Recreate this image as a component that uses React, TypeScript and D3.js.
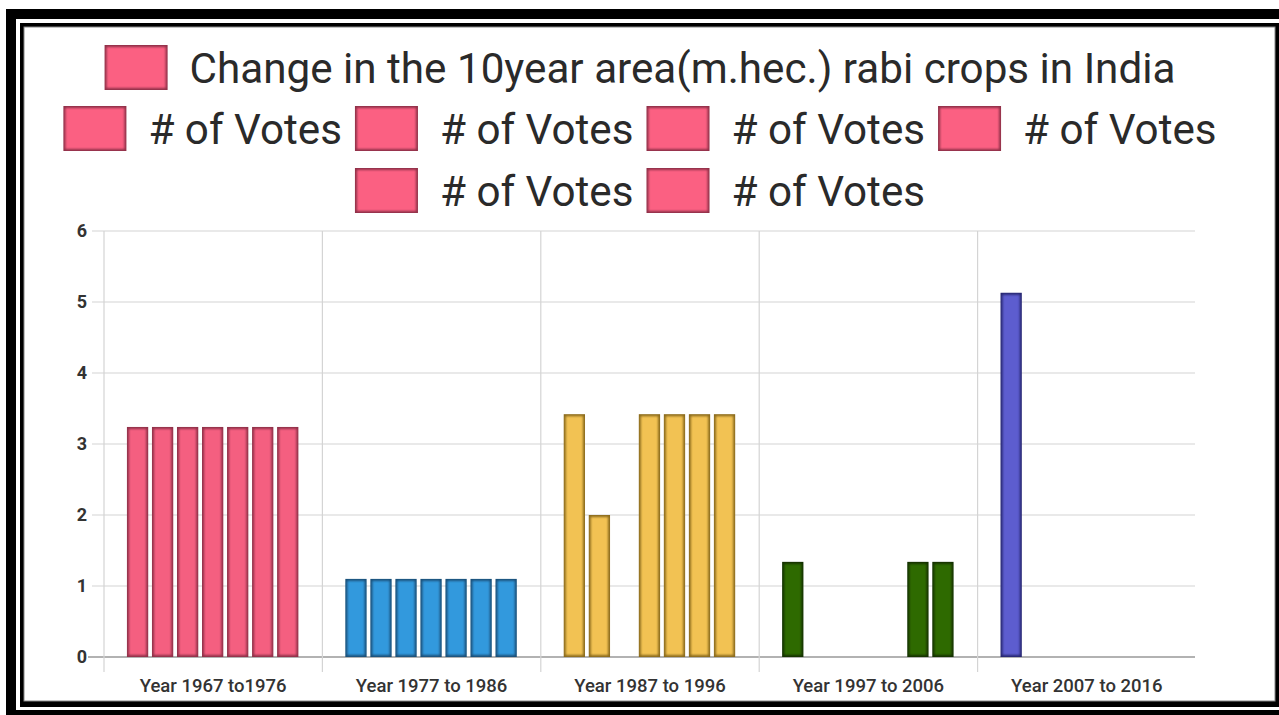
import React from "react";
import * as d3 from "d3";

const categories = [
  "Year 1967 to1976",
  "Year 1977 to 1986",
  "Year 1987 to 1996",
  "Year 1997 to 2006",
  "Year 2007 to 2016",
];
const seriesNames = [
  "Change in the 10year area(m.hec.) rabi crops in India",
  "# of Votes",
  "# of Votes",
  "# of Votes",
  "# of Votes",
  "# of Votes",
  "# of Votes",
];
const series1 = [3.24, 1.1, 3.42, 1.34, 5.13];
const series2 = [3.24, 1.1, 2.0, 0, 0];
const series3 = [3.24, 1.1, 0, 0, 0];
const series4 = [3.24, 1.1, 3.42, 0, 0];
const series5 = [3.24, 1.1, 3.42, 0, 0];
const series6 = [3.24, 1.1, 3.42, 1.34, 0];
const series7 = [3.24, 1.1, 3.42, 1.34, 0];
const allSeries = [series1, series2, series3, series4, series5, series6, series7];
const categoryColors = ["#f45e80", "#3399dd", "#f2c252", "#2f6b00", "#5d5dcf"];
const categoryEdges = ["#8f3048", "#1a4f78", "#8a6a1c", "#143000", "#262670"];
const legendColor = "#fb6182";
const legendEdge = "#8f3048";
const yTicks = [0, 1, 2, 3, 4, 5, 6];

const W = 1279;
const H = 715;
const FONT = "Roboto, 'Noto Sans', sans-serif";

function measure(text: string, size: number, weight = "400") {
  const c = document.createElement("canvas");
  const ctx = c.getContext("2d");
  if (!ctx) return text.length * size * 0.47;
  ctx.font = `${weight} ${size}px Roboto`;
  return ctx.measureText(text).width;
}

function BevelRect(props: { x: number; y: number; w: number; h: number; fill: string; edge: string }) {
  const { x, y, w, h, fill, edge } = props;
  const inset = 2;
  return (
    <g>
      <rect x={x} y={y} width={w} height={h} fill={edge} />
      <rect
        x={x + inset}
        y={y + inset}
        width={Math.max(0, w - inset * 2)}
        height={Math.max(0, h - inset * 2)}
        fill={fill}
        filter="url(#soft)"
      />
    </g>
  );
}

export default function App() {
  const left = 104;
  const right = 1196;
  const top = 231;
  const bottom = 657;

  const y = d3.scaleLinear().domain([0, 6]).range([bottom, top]);
  const x0 = d3.scaleBand<string>().domain(categories).range([left, right]).padding(0);
  const bw = x0.bandwidth();
  const x1 = d3
    .scaleBand<number>()
    .domain(d3.range(allSeries.length))
    .range([bw * 0.105, bw * 0.89])
    .paddingInner(0.15)
    .paddingOuter(0);

  // legend layout
  const legFont = 42.2;
  const sw = 63;
  const sh = 45;
  const gapText = 22;
  const itemGap = 13;
  const centerX = 640;
  const rows = [[0], [1, 2, 3, 4], [5, 6]];
  const rowBase = [83, 144, 206];
  const legendItems: { i: number; x: number; base: number }[] = [];
  rows.forEach((row, ri) => {
    const widths = row.map((i) => sw + gapText + measure(seriesNames[i], legFont));
    const total = d3.sum(widths) + itemGap * (row.length - 1);
    let cx = centerX - total / 2;
    row.forEach((i, k) => {
      legendItems.push({ i, x: cx, base: rowBase[ri] });
      cx += widths[k] + itemGap;
    });
  });

  return (
    <svg
      width={W}
      height={H}
      style={{ position: "absolute", left: 0, top: 0, display: "block", background: "#fff" }}
    >
      <defs>
        <filter id="soft" x="-20%" y="-5%" width="140%" height="110%">
          <feGaussianBlur stdDeviation="1.1" />
        </filter>
      </defs>

      {/* frame */}
      <rect x={6} y={9} width={W - 6} height={H - 9} fill="#000" />
      <rect x={16} y={19} width={W - 16} height={710 - 19} fill="#fff" />
      <rect x={20} y={23} width={W - 20} height={707 - 23} fill="#000" />
      <rect x={24} y={27} width={1275 - 24} height={701 - 27} fill="#fff" stroke="#888" strokeWidth={1} />

      {/* legend */}
      {legendItems.map((it, k) => (
        <g key={k}>
          <BevelRect x={it.x} y={it.base - 38} w={sw} h={sh} fill={legendColor} edge={legendEdge} />
          <text
            x={it.x + sw + gapText}
            y={it.base}
            fontFamily={FONT}
            fontSize={legFont}
            fill="#2a2a2a"
          >
            {seriesNames[it.i]}
          </text>
        </g>
      ))}

      {/* horizontal gridlines */}
      {yTicks.map((t) => (
        <line
          key={"h" + t}
          x1={t === 0 ? 88 : 92}
          x2={right - 1}
          y1={y(t)}
          y2={y(t)}
          stroke={t === 0 ? "#999" : "#d4d4d4"}
          strokeWidth={t === 0 ? 1.6 : 1.2}
        />
      ))}
      {/* vertical gridlines */}
      {categories.map((c) => (
        <line
          key={"v" + c}
          x1={x0(c)}
          x2={x0(c)}
          y1={top}
          y2={672}
          stroke="#d4d4d4"
          strokeWidth={1.2}
        />
      ))}

      {/* y labels */}
      {yTicks.map((t) => (
        <text
          key={"yl" + t}
          x={87}
          y={y(t)}
          dy="0.36em"
          textAnchor="end"
          fontFamily={FONT}
          fontWeight={700}
          fontSize={18}
          fill="#333"
        >
          {t}
        </text>
      ))}

      {/* bars */}
      {categories.map((c, ci) => (
        <g key={"g" + c} transform={`translate(${x0(c)},0)`}>
          {allSeries.map((s, si) =>
            s[ci] > 0 ? (
              <BevelRect
                key={si}
                x={x1(si) as number}
                y={y(s[ci])}
                w={x1.bandwidth()}
                h={y(0) - y(s[ci])}
                fill={categoryColors[ci]}
                edge={categoryEdges[ci]}
              />
            ) : null
          )}
        </g>
      ))}

      {/* x labels */}
      {categories.map((c) => (
        <text
          key={"xl" + c}
          x={(x0(c) as number) + bw / 2}
          y={692}
          textAnchor="middle"
          fontFamily={FONT}
          fontWeight={500}
          fontSize={18.5}
          fill="#333"
        >
          {c}
        </text>
      ))}
    </svg>
  );
}
